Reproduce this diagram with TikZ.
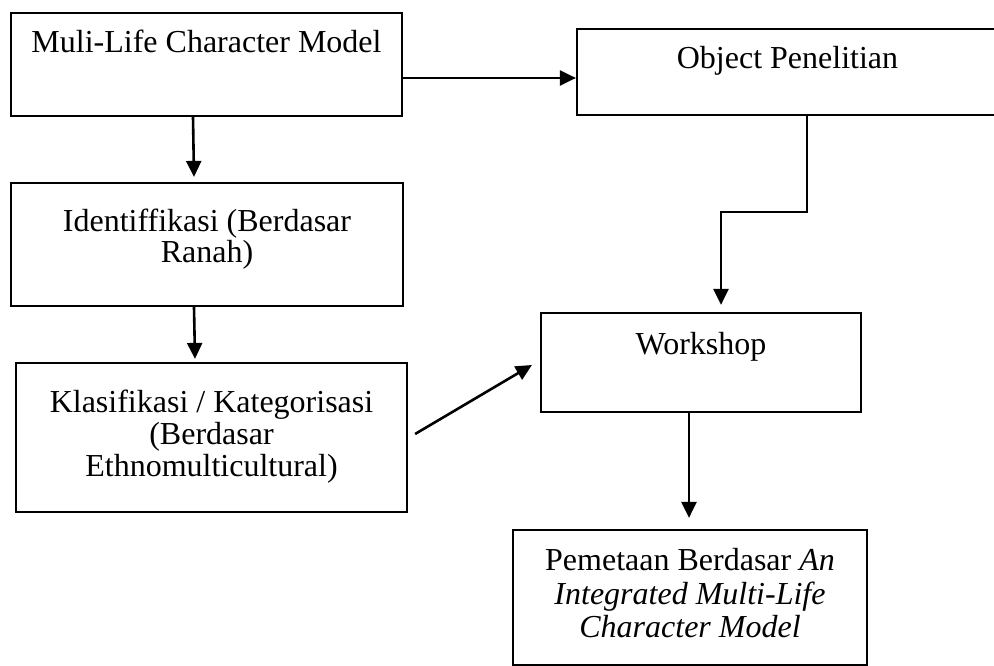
\documentclass[tikz,border=0pt]{standalone}
\usepackage{fontspec}
\setmainfont{Liberation Serif}
\usetikzlibrary{arrows.meta,calc}
\begin{document}
\begin{tikzpicture}[x=1pt,y=-1pt,
  box/.style={draw=black, line width=2.2pt, inner sep=0pt},
  conn/.style={line width=2.6pt, -{Triangle[length=16pt,width=15pt]}},
  txt/.style={anchor=base, inner sep=0pt, font=\fontsize{32pt}{36pt}\selectfont}]
\useasboundingbox (0,0) rectangle (994,666);
% boxes
\node[box, minimum width=391pt, minimum height=103pt] (b1) at (206.5,64.5) {};
\node[box, minimum width=421pt, minimum height=86pt] (b2) at (787.5,72) {};
\node[box, minimum width=392pt, minimum height=123pt] (b3) at (207,244.5) {};
\node[box, minimum width=391pt, minimum height=149pt] (b4) at (211.5,437.5) {};
\node[box, minimum width=320pt, minimum height=99pt] (b5) at (701,362.5) {};
\node[box, minimum width=354pt, minimum height=135pt] (b6) at (690,597.5) {};
% texts
\node[txt] (t1) at (206.5,53) {Muli-Life Character Model};
\node[txt] (t2) at (787.5,69) {Object Penelitian};
\node[txt] (t3a) at (207,232) {Identiffikasi (Berdasar};
\node[txt] (t3b) at (207,262) {Ranah)};
\node[txt] (t4a) at (211.5,412) {Klasifikasi / Kategorisasi};
\node[txt] (t4b) at (211.5,444) {(Berdasar};
\node[txt] (t4c) at (211.5,476) {Ethnomulticultural)};
\node[txt] (t5) at (701,354) {Workshop};
\node[txt] (t6a) at (690,570) {Pemetaan Berdasar \textit{An}};
\node[txt] (t6b) at (690,604) {\textit{Integrated Multi-Life}};
\node[txt] (t6c) at (690,637) {\textit{Character Model}};
% connectors
\draw[conn] ($(b1.east)+(0,13.5)$) -- ($(b2.west)+(0,6)$);
\draw[conn] ($(b1.south)+(-13.5,0)$) -- ($(b3.north)+(-13,-5)$);
\draw[conn] ($(b3.south)+(-13,0)$) -- ($(b4.north)+(-16.5,-3)$);
\draw[conn] ($(b4.east)+(7,-3.5)$) -- ($(b5.west)+(-8,2.5)$);
\draw[conn] ($(b2.south)+(19.5,0)$) -- ++(0,96) -| ($(b5.north)+(20,-7)$);
\draw[conn] ($(b5.south)+(-12,0)$) -- ($(b6.north)+(-1,-11)$);
\end{tikzpicture}
\end{document}
